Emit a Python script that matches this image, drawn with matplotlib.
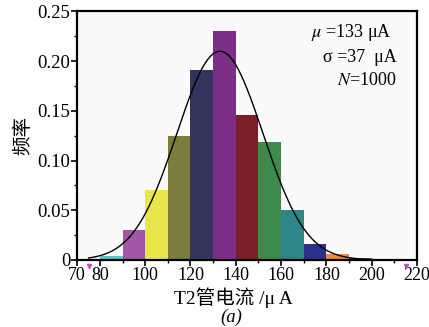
import numpy as np
import matplotlib
matplotlib.use("Agg")
import matplotlib.pyplot as plt
from matplotlib.ticker import FixedLocator

plt.rcParams['font.family'] = ['Liberation Serif', 'Noto Sans CJK SC']
plt.rcParams['mathtext.fontset'] = 'stix'

# histogram bins (left edge, width 10 uA) and relative frequency
bin_left = [80, 90, 100, 110, 120, 130, 140, 150, 160, 170, 180, 190]
freq = [0.004, 0.030, 0.070, 0.125, 0.191, 0.230, 0.146, 0.119, 0.050,
        0.016, 0.006, 0.002]
bar_colors = ['#5cc6cc', '#a257a6', '#e8e64a', '#7c7c3c', '#33345e',
              '#7c2f86', '#7a1f26', '#3e8a4b', '#2e8686', '#2e2f86',
              '#f08a2c', '#5b5ba6']
bin_width = 10

# fitted normal curve parameters (as drawn)
mu_fit = 133
sigma_fit = 19
x_curve_range = (75, 200)

# small magenta range markers below the axis
range_marks = [75, 215]

xticks = [70, 80, 100, 120, 140, 160, 180, 200, 220]
yticks = [0, 0.05, 0.10, 0.15, 0.20, 0.25]
ytick_labels = ['0', '0.05', '0.10', '0.15', '0.20', '0.25']

fig = plt.figure(figsize=(4.29, 3.27), dpi=100)
ax = fig.add_axes([0.18, 0.205, 0.792, 0.76])
ax.set_facecolor('#fafafa')

ax.bar(bin_left, freq, width=bin_width, align='edge', color=bar_colors,
       edgecolor='none', zorder=2)

xc = np.linspace(*x_curve_range, 300)
yc = bin_width / (sigma_fit * np.sqrt(2 * np.pi)) * \
    np.exp(-0.5 * ((xc - mu_fit) / sigma_fit) ** 2)
ax.plot(xc, yc, color='black', lw=1.0, zorder=3)

ax.plot(range_marks, [-0.006] * len(range_marks), ls='none', marker='v',
        ms=3, color='#c050c0', clip_on=False, zorder=4)

ax.set_xlim(70, 220)
ax.set_ylim(0, 0.25)
ax.xaxis.set_major_locator(FixedLocator(xticks))
ax.xaxis.set_minor_locator(FixedLocator([90, 110, 130, 150, 170, 190, 210]))
ax.yaxis.set_major_locator(FixedLocator(yticks))
ax.yaxis.set_minor_locator(FixedLocator([0.025, 0.075, 0.125, 0.175, 0.225]))
ax.set_yticklabels(ytick_labels)
ax.tick_params(axis='y', which='major', direction='out', length=4,
               width=1.2, labelsize=13.5, pad=1)
ax.tick_params(axis='x', which='major', direction='out', length=4,
               width=1.2, labelsize=13, pad=1)
ax.tick_params(axis='both', which='minor', direction='out', length=2.5,
               width=1.0)
for s in ax.spines.values():
    s.set_linewidth(1.6)

ax.set_ylabel('频率', fontsize=14, labelpad=4)
ax.set_xlabel('T2管电流 /μ A', fontsize=14, labelpad=1)
ax.xaxis.set_label_coords(0.46, -0.11)
fig.text(0.54, 0.015, '(a)', fontsize=13.5, ha='center', style='italic')

ax.text(0.925, 0.917, r'$\mu$ =133 μA', transform=ax.transAxes,
        ha='right', va='center', fontsize=13)
ax.text(0.94, 0.816, 'σ =37  μA', transform=ax.transAxes,
        ha='right', va='center', fontsize=13)
ax.text(0.94, 0.724, r'$N$=1000', transform=ax.transAxes,
        ha='right', va='center', fontsize=13)

fig.savefig('out.png', dpi=100)
